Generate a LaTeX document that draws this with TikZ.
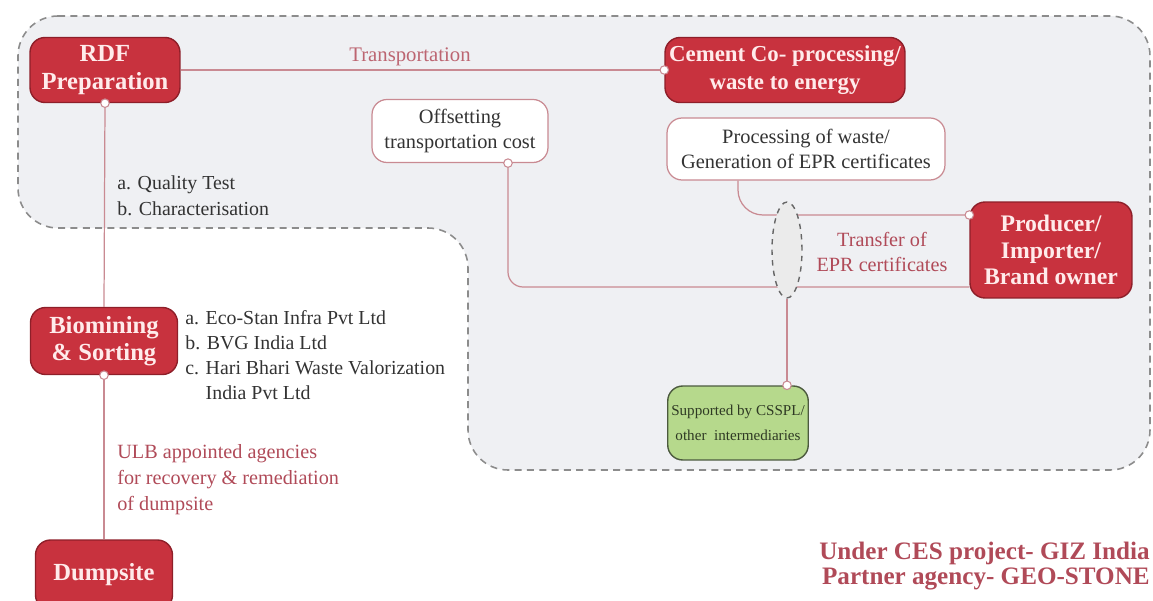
\documentclass[tikz,border=0pt]{standalone}
\usepackage{fontspec}
\setmainfont{Liberation Serif}
\usepackage{tikz}
\usetikzlibrary{arrows.meta, calc, positioning, shapes.geometric}
\usepackage{xcolor}

\definecolor{rdfred}{HTML}{C8323E}
\definecolor{rdfedge}{HTML}{8E1F29}
\definecolor{linkpink}{HTML}{C98A92}
\definecolor{lblred}{HTML}{B04A58}
\definecolor{zonegray}{HTML}{EFF0F3}
\definecolor{zoneedge}{HTML}{8C8C8C}
\definecolor{leafgreen}{HTML}{B6D98C}
\definecolor{leafedge}{HTML}{4C5A3E}
\definecolor{leaftext}{HTML}{2F3A24}
\definecolor{inktext}{HTML}{333333}

\tikzset{
  redbox/.style={draw=rdfedge, line width=0.8pt, fill=rdfred, rounded corners=0.3cm,
    text=white!92!red, font=\fontsize{14}{15.5}\selectfont\bfseries, align=center, inner sep=2pt},
  notebox/.style={draw=linkpink, line width=0.7pt, fill=white, rounded corners=0.3cm,
    text=inktext, font=\fontsize{11.6}{14.5}\selectfont, align=center, inner sep=2pt},
  greenbox/.style={draw=leafedge, line width=0.8pt, fill=leafgreen, rounded corners=0.3cm,
    text=leaftext, font=\fontsize{8.6}{14}\selectfont, align=center, inner sep=2pt},
  link/.style={draw=linkpink, line width=0.7pt},
  enddot/.style={circle, draw=linkpink, fill=white, inner sep=0pt, minimum size=0.17cm, line width=0.6pt},
  lbl/.style={font=\fontsize{11.3}{15}\selectfont, align=left, text=inktext, inner sep=0pt},
}

\begin{document}
\begin{tikzpicture}[x=0.02cm, y=-0.02cm]
    \useasboundingbox (0,0) rectangle (1153,601);

    % CES zone
    \draw[fill=zonegray, draw=zoneedge, line width=0.9pt, dash pattern=on 4pt off 3pt, rounded corners=0.8cm]
        (18,16) -- (1150,16) -- (1150,470) -- (468,470) -- (468,228) -- (18,228) -- cycle;

    % main chain
    \node[redbox, minimum width=3cm, minimum height=1.3cm] (rdf) at (105,70) {RDF\\Preparation};
    \node[redbox, font=\fontsize{13}{15.5}\selectfont\bfseries, minimum width=4.8cm, minimum height=1.3cm] (cement) at (785,70) {Cement Co- processing/\\waste to energy};
    \node[redbox, minimum width=2.94cm, minimum height=1.34cm] (biomining) at (104,341) {Biomining\\\& Sorting};
    \node[redbox, minimum width=2.74cm, minimum height=1.4cm] (dumpsite) at (104,575) {Dumpsite};
    \node[redbox, font=\fontsize{13.5}{15}\selectfont\bfseries, minimum width=3.24cm, minimum height=1.92cm] (producer) at (1051,250) {Producer/\\Importer/\\Brand owner};

    % notes
    \node[notebox, minimum width=3.52cm, minimum height=1.26cm] (offset) at (460,131) {Offsetting\\transportation cost};
    \node[notebox, minimum width=5.56cm, minimum height=1.24cm] (procwaste) at (806,149) {Processing of waste/\\Generation of EPR certificates};
    \node[greenbox, minimum width=2.8cm, minimum height=1.48cm] (csspl) at (738,423) {Supported by CSSPL/\\other\ \ intermediaries};

    % links
    \draw[link] (rdf.east) -- (cement.west);
    \draw[link] (rdf.south) -- (biomining.north);
    \draw[link] (biomining.south) -- (dumpsite.north);
    \draw[link, rounded corners=0.5cm] ($(procwaste.south)+(-68,0)$) |- ($(producer.west)+(0,-35)$);
    \draw[link, rounded corners=0.3cm] ($(offset.south)+(48,0)$) |- ($(producer.west)+(0,37)$);

    % EPR transfer
    \node[ellipse, draw=black!60, fill=black!8, dashed, line width=0.8pt, minimum width=0.6cm, minimum height=1.92cm, inner sep=0pt] (epr) at (787,250) {};
    \draw[link] (epr.south) -- (epr.south |- csspl.north);

    % end dots
    \node[enddot] at (rdf.south) {};
    \node[enddot] at (cement.west) {};
    \node[enddot] at (biomining.south) {};
    \node[enddot] at ($(offset.south)+(48,0)$) {};
    \node[enddot] at ($(producer.west)+(0,-35)$) {};
    \node[enddot] at (epr.south |- csspl.north) {};

    % labels
    \node[lbl, text=lblred!85!white, font=\fontsize{11.8}{15}\selectfont] (transport) at (410,57) {Transportation};
    \node[lbl, anchor=west] (tests) at (117,196) {a. Quality Test\\b. Characterisation};
    \node[lbl, anchor=west, font=\fontsize{11.3}{14.2}\selectfont] (agencies) at (185,355)
        {a. Eco-Stan Infra Pvt Ltd\\b. BVG India Ltd\\c. Hari Bhari Waste Valorization\\\phantom{c. }India Pvt Ltd};
    \node[lbl, anchor=west, text=lblred, font=\fontsize{11.5}{14.8}\selectfont] (ulb) at (117,480)
        {ULB appointed agencies\\for recovery \& remediation\\of dumpsite};
    \node[lbl, align=center, text=lblred, font=\fontsize{11.5}{14}\selectfont] (transfer) at (882,252) {Transfer of\\EPR certificates};

    \node[lbl, anchor=east, align=right, text=lblred, font=\fontsize{14.3}{14.3}\selectfont\bfseries] (footer) at (1150,566)
        {Under CES project- GIZ India\\Partner agency- GEO-STONE};
\end{tikzpicture}
\end{document}
